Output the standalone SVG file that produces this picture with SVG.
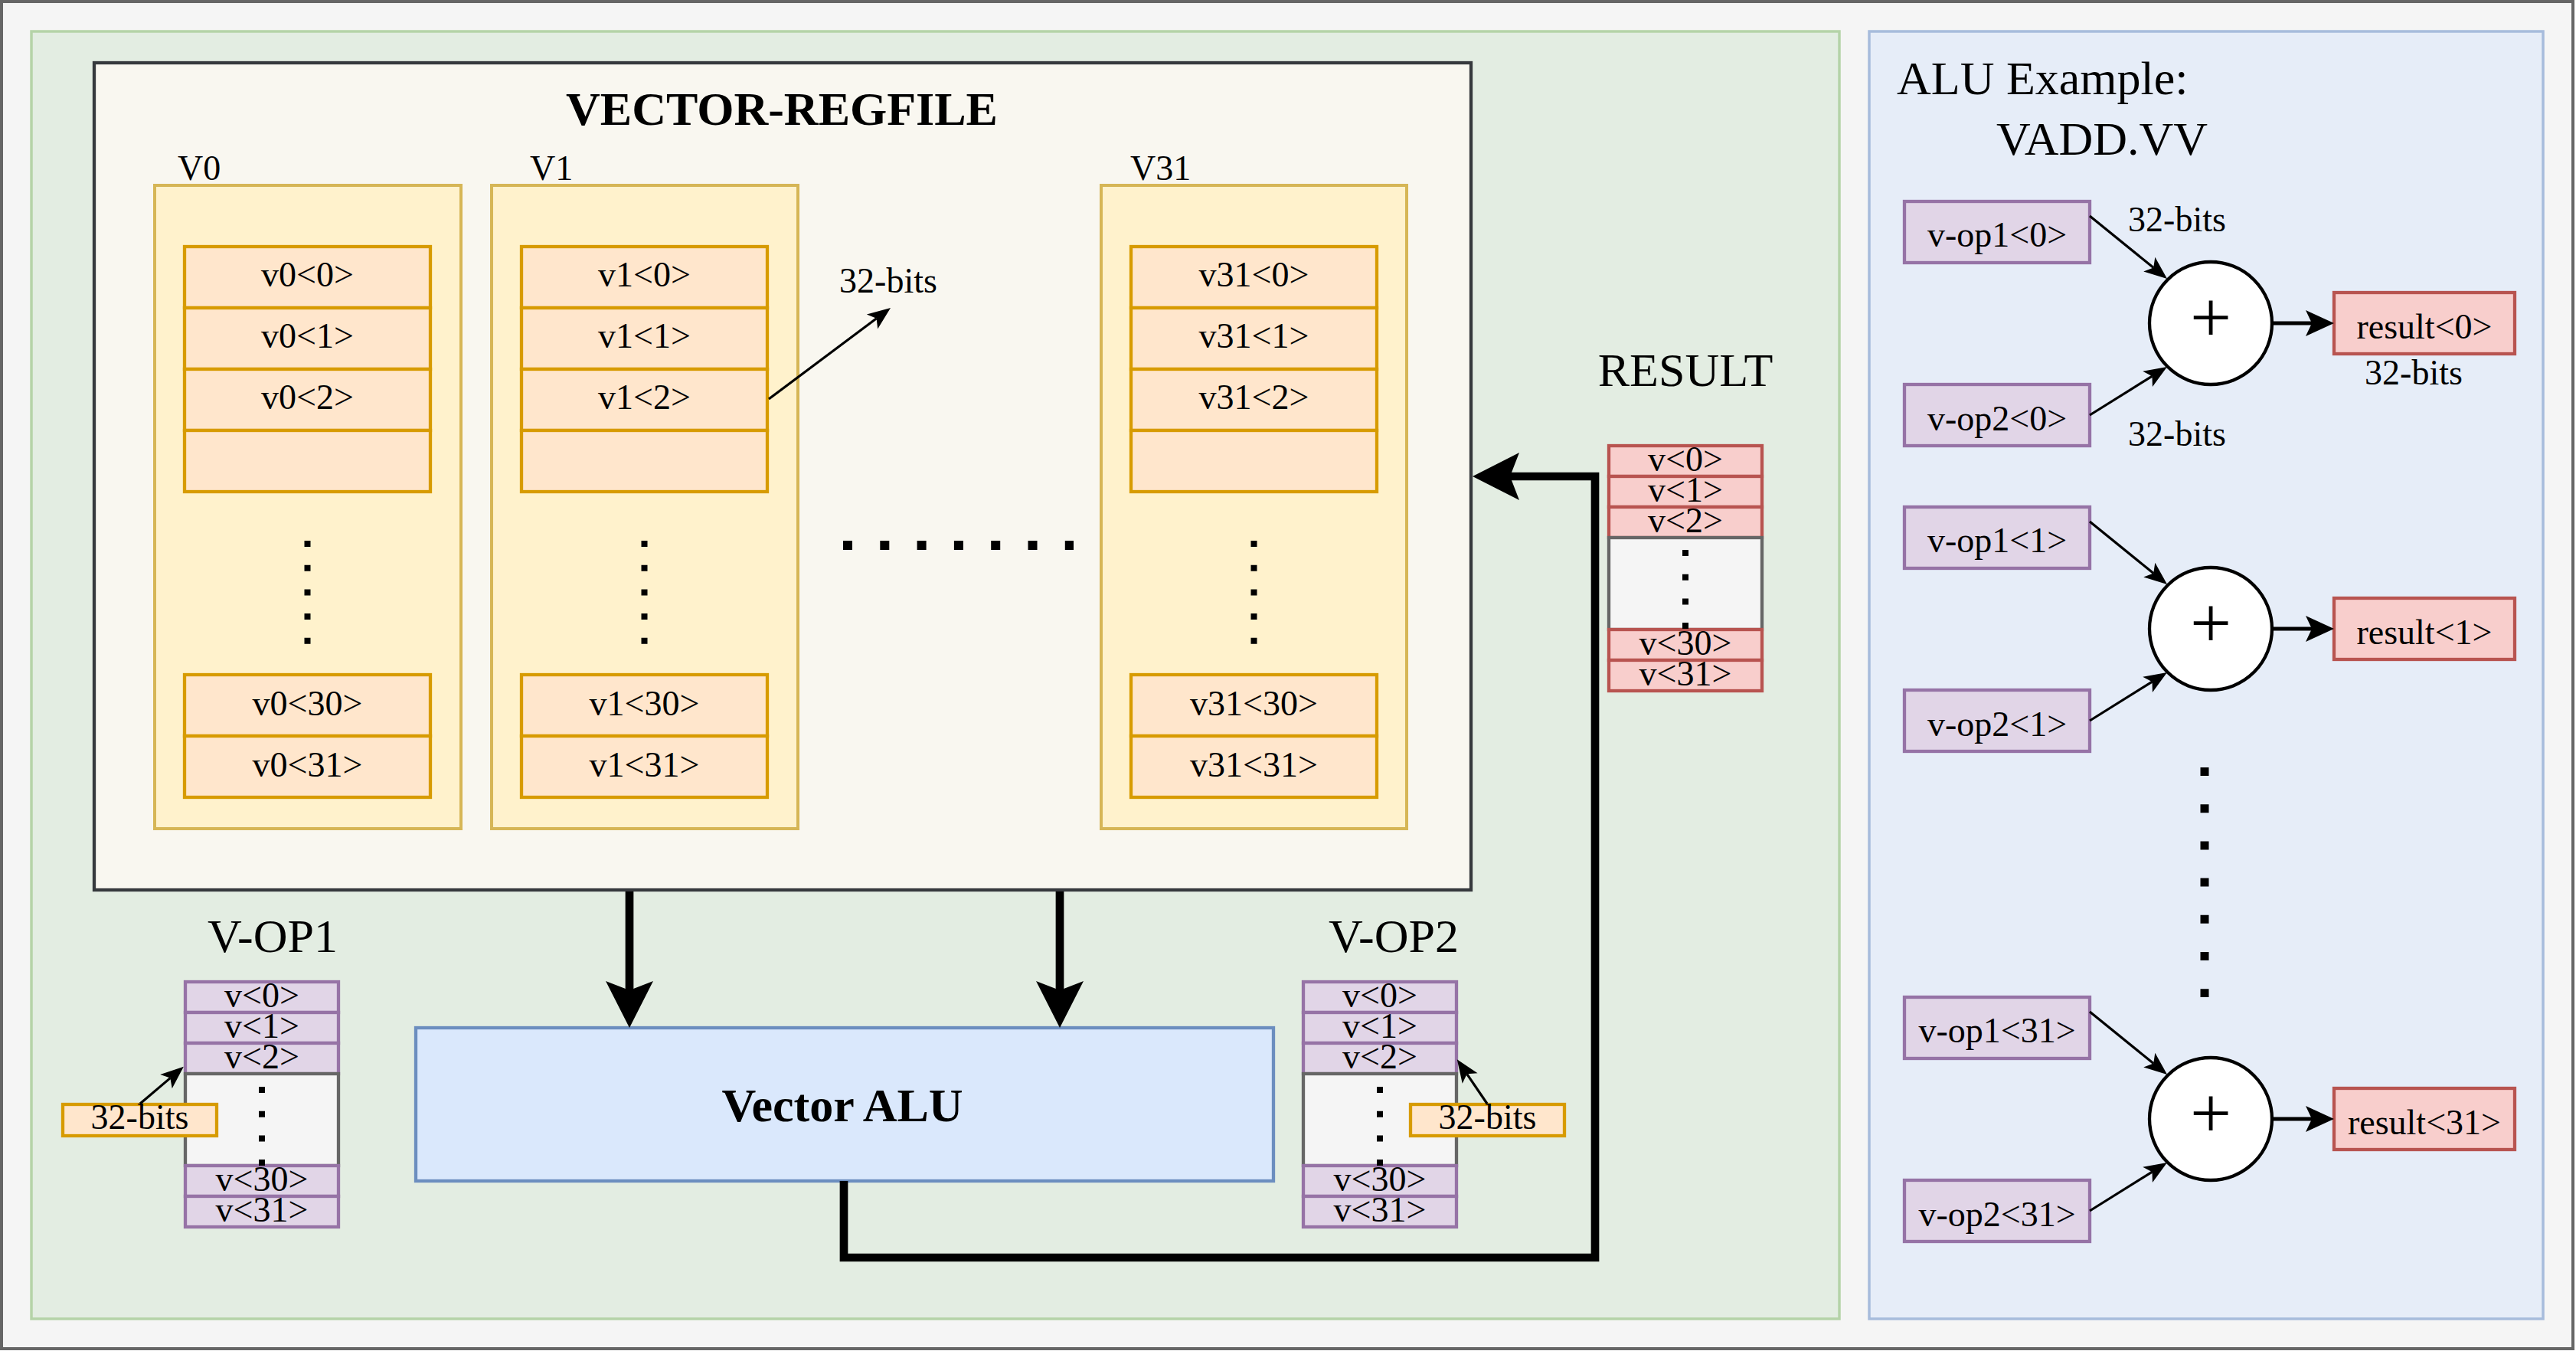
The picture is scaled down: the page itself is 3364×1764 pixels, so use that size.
<svg xmlns="http://www.w3.org/2000/svg" width="3364" height="1764" viewBox="0 0 3364 1764">
<style>
text{font-family:"Liberation Serif","Times New Roman",serif;fill:#000;text-anchor:middle}
.s{font-size:46px}
.l{font-size:62px}
.b{font-size:62px;font-weight:bold}
.cell{fill:#ffe6cc;stroke:#d79b00;stroke-width:4.3}
.col{fill:#fff2cc;stroke:#d6b656;stroke-width:4}
.pur{fill:#e1d5e7;stroke:#9673a6;stroke-width:4.3}
.red{fill:#f8cecc;stroke:#b85450;stroke-width:4.3}
.gry{fill:#f5f5f5;stroke:#666666;stroke-width:4.3}
.dots{fill:none;stroke:#000;stroke-width:8;stroke-dasharray:8 23.7}
.thin{fill:none;stroke:#000;stroke-width:3.2;marker-end:url(#ahSm)}
.med{fill:none;stroke:#000;stroke-width:5;marker-end:url(#ahMed)}
.thick{fill:none;stroke:#000;stroke-width:10.7;marker-end:url(#ahBig)}
</style>
<defs>
<marker id="ahBig" markerUnits="userSpaceOnUse" viewBox="-62 -32 64 64" markerWidth="64" markerHeight="64" refX="-49" refY="0" orient="auto"><path d="M0,0 L-61,-31 L-49,0 L-61,31 Z" fill="#000"/></marker>
<marker id="ahMed" markerUnits="userSpaceOnUse" viewBox="-38 -18 40 36" markerWidth="40" markerHeight="36" refX="-29" refY="0" orient="auto"><path d="M0,0 L-37,-17 L-29,0 L-37,17 Z" fill="#000"/></marker>
<marker id="ahSm" markerUnits="userSpaceOnUse" viewBox="-32 -13 34 26" markerWidth="34" markerHeight="26" refX="-23" refY="0" orient="auto"><path d="M0,0 L-30,-12 L-23,0 L-30,12 Z" fill="#000"/></marker>
</defs>

<rect x="2" y="2" width="3358" height="1759" fill="#f5f5f5" stroke="#666666" stroke-width="4"/>

<g id="panel-main"><rect x="41" y="41" width="2361" height="1681" fill="#e3ede2" stroke="#b5d3a8" stroke-width="3.5"/></g>
<g id="panel-example"><rect x="2441" y="41" width="880" height="1681" fill="#e6edf8" stroke="#a7bcdc" stroke-width="3.5"/>
<text class="l" x="2477" y="123" style="text-anchor:start">ALU Example:</text>
<text class="l" x="2745" y="202">VADD.VV</text></g>

<g id="regfile">
<rect x="123" y="82" width="1798" height="1080" fill="#f9f7f0" stroke="#36393d" stroke-width="4.3"/>
<text class="b" x="1021" y="163">VECTOR-REGFILE</text>
</g>

<g id="reg-v0">
<rect class="col" x="202" y="242" width="400" height="840"/>
<text class="s" x="232" y="235" style="text-anchor:start">V0</text>
<rect class="cell" x="241" y="322" width="321" height="80"/><text class="s" x="401.5" y="374">v0&lt;0&gt;</text>
<rect class="cell" x="241" y="402" width="321" height="80"/><text class="s" x="401.5" y="454">v0&lt;1&gt;</text>
<rect class="cell" x="241" y="482" width="321" height="80"/><text class="s" x="401.5" y="534">v0&lt;2&gt;</text>
<rect class="cell" x="241" y="562" width="321" height="80"/>
<line class="dots" x1="401.5" y1="706" x2="401.5" y2="842"/>
<rect class="cell" x="241" y="881" width="321" height="80"/><text class="s" x="401.5" y="934">v0&lt;30&gt;</text>
<rect class="cell" x="241" y="961" width="321" height="80"/><text class="s" x="401.5" y="1014">v0&lt;31&gt;</text>
</g>

<g id="reg-v1">
<rect class="col" x="642" y="242" width="400" height="840"/>
<text class="s" x="692" y="235" style="text-anchor:start">V1</text>
<rect class="cell" x="681" y="322" width="321" height="80"/><text class="s" x="841.5" y="374">v1&lt;0&gt;</text>
<rect class="cell" x="681" y="402" width="321" height="80"/><text class="s" x="841.5" y="454">v1&lt;1&gt;</text>
<rect class="cell" x="681" y="482" width="321" height="80"/><text class="s" x="841.5" y="534">v1&lt;2&gt;</text>
<rect class="cell" x="681" y="562" width="321" height="80"/>
<line class="dots" x1="841.5" y1="706" x2="841.5" y2="842"/>
<rect class="cell" x="681" y="881" width="321" height="80"/><text class="s" x="841.5" y="934">v1&lt;30&gt;</text>
<rect class="cell" x="681" y="961" width="321" height="80"/><text class="s" x="841.5" y="1014">v1&lt;31&gt;</text>
</g>

<g id="reg-gap">
<line x1="1101" y1="712" x2="1402" y2="712" stroke="#000" stroke-width="12" stroke-dasharray="12 36.3"/>
<text class="s" x="1160" y="382">32-bits</text>
</g>

<g id="reg-v31">
<rect class="col" x="1438" y="242" width="399" height="840"/>
<text class="s" x="1476" y="235" style="text-anchor:start">V31</text>
<rect class="cell" x="1477" y="322" width="321" height="80"/><text class="s" x="1637.5" y="374">v31&lt;0&gt;</text>
<rect class="cell" x="1477" y="402" width="321" height="80"/><text class="s" x="1637.5" y="454">v31&lt;1&gt;</text>
<rect class="cell" x="1477" y="482" width="321" height="80"/><text class="s" x="1637.5" y="534">v31&lt;2&gt;</text>
<rect class="cell" x="1477" y="562" width="321" height="80"/>
<line class="dots" x1="1637.5" y1="706" x2="1637.5" y2="842"/>
<rect class="cell" x="1477" y="881" width="321" height="80"/><text class="s" x="1637.5" y="934">v31&lt;30&gt;</text>
<rect class="cell" x="1477" y="961" width="321" height="80"/><text class="s" x="1637.5" y="1014">v31&lt;31&gt;</text>
</g>

<g id="result">
<text class="l" x="2201" y="504">RESULT</text>
<rect class="red" x="2101" y="582" width="200" height="40"/><text class="s" x="2201" y="615">v&lt;0&gt;</text>
<rect class="red" x="2101" y="622" width="200" height="40"/><text class="s" x="2201" y="655">v&lt;1&gt;</text>
<rect class="red" x="2101" y="662" width="200" height="40"/><text class="s" x="2201" y="695">v&lt;2&gt;</text>
<rect class="gry" x="2101" y="702" width="200" height="120"/>
<rect class="red" x="2101" y="822" width="200" height="40"/><text class="s" x="2201" y="855">v&lt;30&gt;</text>
<rect class="red" x="2101" y="862" width="200" height="40"/><text class="s" x="2201" y="895">v&lt;31&gt;</text>
<line class="dots" x1="2201" y1="718" x2="2201" y2="822"/>
</g>

<g id="vop1">
<text class="l" x="356" y="1243">V-OP1</text>
<rect class="pur" x="242" y="1282" width="200" height="40"/><text class="s" x="342" y="1315">v&lt;0&gt;</text>
<rect class="pur" x="242" y="1322" width="200" height="40"/><text class="s" x="342" y="1355">v&lt;1&gt;</text>
<rect class="pur" x="242" y="1362" width="200" height="40"/><text class="s" x="342" y="1395">v&lt;2&gt;</text>
<rect class="gry" x="242" y="1402" width="200" height="120"/>
<rect class="pur" x="242" y="1522" width="200" height="40"/><text class="s" x="342" y="1555">v&lt;30&gt;</text>
<rect class="pur" x="242" y="1562" width="200" height="40"/><text class="s" x="342" y="1595">v&lt;31&gt;</text>
<line class="dots" x1="342" y1="1419" x2="342" y2="1522"/>
</g>
<g id="vop1-bits">
<rect class="cell" x="82" y="1442" width="201" height="41"/><text class="s" x="182.5" y="1474">32-bits</text>
</g>

<g id="vop2">
<text class="l" x="1820" y="1243">V-OP2</text>
<rect class="pur" x="1702" y="1282" width="200" height="40"/><text class="s" x="1802" y="1315">v&lt;0&gt;</text>
<rect class="pur" x="1702" y="1322" width="200" height="40"/><text class="s" x="1802" y="1355">v&lt;1&gt;</text>
<rect class="pur" x="1702" y="1362" width="200" height="40"/><text class="s" x="1802" y="1395">v&lt;2&gt;</text>
<rect class="gry" x="1702" y="1402" width="200" height="120"/>
<rect class="pur" x="1702" y="1522" width="200" height="40"/><text class="s" x="1802" y="1555">v&lt;30&gt;</text>
<rect class="pur" x="1702" y="1562" width="200" height="40"/><text class="s" x="1802" y="1595">v&lt;31&gt;</text>
<line class="dots" x1="1802" y1="1419" x2="1802" y2="1522"/>
</g>
<g id="vop2-bits">
<rect class="cell" x="1842" y="1442" width="201" height="41"/><text class="s" x="1942.5" y="1474">32-bits</text>
</g>

<g id="vector-alu">
<rect x="543" y="1342" width="1120" height="200" fill="#dae8fc" stroke="#6c8ebf" stroke-width="4.3"/>
<text class="b" x="1100" y="1464">Vector ALU</text>
</g>

<g id="ex-lane0">
<rect class="pur" x="2487" y="263" width="242" height="80"/><text class="s" x="2608" y="322">v-op1&lt;0&gt;</text>
<rect class="pur" x="2487" y="502" width="242" height="80"/><text class="s" x="2608" y="562">v-op2&lt;0&gt;</text>
<circle cx="2887" cy="422" r="80" fill="#fff" stroke="#000" stroke-width="4.3"/><text x="2887" y="446" style="font-size:96px">+</text>
<rect class="red" x="3048" y="382" width="236" height="80"/><text class="s" x="3166" y="442">result&lt;0&gt;</text>
<text class="s" x="2843" y="302">32-bits</text>
<text class="s" x="2843" y="582">32-bits</text>
<text class="s" x="3152" y="502">32-bits</text>
</g>
<g id="ex-lane1">
<rect class="pur" x="2487" y="662" width="242" height="80"/><text class="s" x="2608" y="721">v-op1&lt;1&gt;</text>
<rect class="pur" x="2487" y="901" width="242" height="80"/><text class="s" x="2608" y="961">v-op2&lt;1&gt;</text>
<circle cx="2887" cy="821" r="80" fill="#fff" stroke="#000" stroke-width="4.3"/><text x="2887" y="845" style="font-size:96px">+</text>
<rect class="red" x="3048" y="781" width="236" height="80"/><text class="s" x="3166" y="841">result&lt;1&gt;</text>
</g>
<g id="ex-gap">
<line x1="2879" y1="1002" x2="2879" y2="1302" stroke="#000" stroke-width="11" stroke-dasharray="11 37.2"/>
</g>
<g id="ex-lane31">
<rect class="pur" x="2487" y="1302" width="242" height="80"/><text class="s" x="2608" y="1361">v-op1&lt;31&gt;</text>
<rect class="pur" x="2487" y="1541" width="242" height="80"/><text class="s" x="2608" y="1601">v-op2&lt;31&gt;</text>
<circle cx="2887" cy="1461" r="80" fill="#fff" stroke="#000" stroke-width="4.3"/><text x="2887" y="1485" style="font-size:96px">+</text>
<rect class="red" x="3048" y="1421" width="236" height="80"/><text class="s" x="3166" y="1481">result&lt;31&gt;</text>
</g>

<g id="connectors">
<path class="thin" d="M1004,521 L1144.6,415.8"/>
<path class="thin" d="M183,1441 L222.3,1407.6"/>
<path class="thin" d="M1942,1441 L1915.7,1402.3"/>
<path class="thick" d="M822,1164 V1293"/>
<path class="thick" d="M1384,1164 V1293"/>
<path class="thick" d="M1102,1542 V1642 H2083 V622 H1972"/>
<path class="thin" d="M2729,282 L2812.2,349.5"/>
<path class="thin" d="M2729,542 L2810.5,491.2"/>
<path class="med" d="M2967,422 H3019"/>
<path class="thin" d="M2729,681 L2812.2,748.5"/>
<path class="thin" d="M2729,941 L2810.5,890.2"/>
<path class="med" d="M2967,821 H3019"/>
<path class="thin" d="M2729,1321 L2812.2,1388.5"/>
<path class="thin" d="M2729,1581 L2810.5,1530.2"/>
<path class="med" d="M2967,1461 H3019"/>
</g>
</svg>
